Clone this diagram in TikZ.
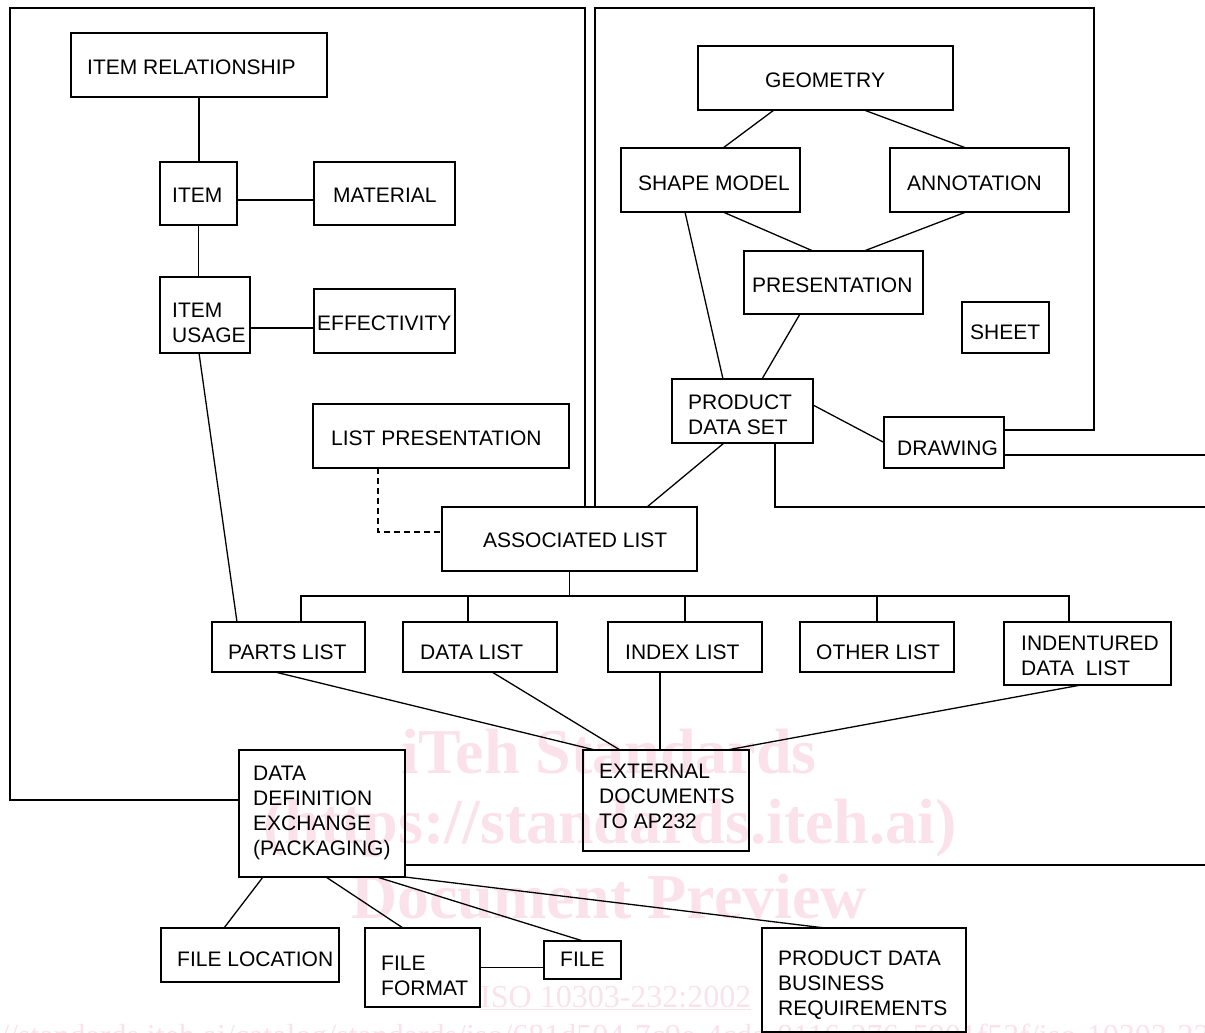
\documentclass[tikz,border=0pt]{standalone}
\usepackage{fontspec}
\setmainfont{Liberation Sans}
\newfontfamily\wmfont{Liberation Serif}
\usetikzlibrary{calc}
\definecolor{wmpink}{RGB}{251,226,234}
\newcommand\mkbox[5]{\node[box, minimum width={(#4)-(#2)}, minimum height={(#5)-(#3)}] (#1) at ({((#2)+(#4))/2},{((#3)+(#5))/2}) {};}
\newcommand\mklbl[4]{\node[lbl] (#1) at (#2,#3) {#4};}
\begin{document}
\begin{tikzpicture}[x=1pt,y=-1pt,
  box/.style={draw, line width=1.3pt, rectangle, inner sep=0pt, outer sep=0pt},
  lbl/.style={anchor=west, align=left, inner sep=0pt, font=\fontsize{21}{25}\selectfont},
  conn/.style={line width=1.3pt},
  wm/.style={text=wmpink, inner sep=0pt, anchor=base}]
\useasboundingbox (0,0) rectangle (1205,1033);
% watermark
\node[wm, font=\wmfont\bfseries\fontsize{64}{70}\selectfont] (wm1) at (609,773) {iTeh Standards};
\node[wm, font=\wmfont\bfseries\fontsize{64}{70}\selectfont] (wm2) at (610,843) {(https://standards.iteh.ai)};
\node[wm, font=\wmfont\bfseries\fontsize{64}{70}\selectfont] (wm3) at (609,918) {Document Preview};
\node[wm, anchor=base west, font=\wmfont\fontsize{32}{36}\selectfont] (wm4) at (480,1007) {\underline{ISO 10303-232:2002}};
\node[wm, anchor=base west, font=\wmfont\fontsize{32}{36}\selectfont] (wm5) at (-71,1046) {https://standards.iteh.ai/catalog/standards/iso/681d504-7c9e-4cda-8116-276c5901f53f/iso-10303-232-2002};
% boxes
\mkbox{ir}{71}{33}{327}{97}
\mkbox{item}{160}{162}{237}{225}
\mkbox{mat}{314}{162}{455}{225}
\mkbox{iu}{160}{277}{250}{353}
\mkbox{eff}{314}{289}{455}{353}
\mkbox{geo}{698}{46}{953}{110}
\mkbox{sm}{621}{148}{800}{212}
\mkbox{ann}{890}{148}{1069}{212}
\mkbox{pres}{744}{251}{923}{314}
\mkbox{sheet}{962}{302}{1049}{353}
\mkbox{pds}{672}{379}{813}{443}
\mkbox{drw}{884}{417}{1004}{468}
\mkbox{lp}{313}{404}{569}{468}
\mkbox{al}{442}{507}{697}{571}
\mkbox{pl}{212}{622}{365}{672}
\mkbox{dl}{403}{622}{557}{672}
\mkbox{il}{608}{622}{762}{672}
\mkbox{ol}{800}{622}{954}{672}
\mkbox{idl}{1004}{622}{1171}{685}
\mkbox{ext}{583}{750}{749}{851}
\mkbox{dde}{239}{750}{405}{877}
\mkbox{fl}{161}{928}{339}{982}
\mkbox{ff}{365}{928}{480}{1007}
\mkbox{file}{544}{941}{621}{979}
\mkbox{pdbr}{762}{928}{966}{1032}
% labels
\mklbl{tir}{87}{67}{ITEM RELATIONSHIP}
\mklbl{titem}{172}{195}{ITEM}
\mklbl{tmat}{333}{195}{MATERIAL}
\mklbl{tiu}{172}{323}{ITEM\\USAGE}
\mklbl{teff}{317}{323}{EFFECTIVITY}
\mklbl{tgeo}{765}{80.5}{GEOMETRY}
\mklbl{tsm}{638}{183}{SHAPE MODEL}
\mklbl{tann}{907}{183}{ANNOTATION}
\mklbl{tpres}{752}{285}{PRESENTATION}
\mklbl{tsheet}{970}{332.5}{SHEET}
\mklbl{tpds}{688}{415}{PRODUCT\\DATA SET}
\mklbl{tdrw}{897}{448}{DRAWING}
\mklbl{tlp}{331}{438}{LIST PRESENTATION}
\mklbl{tal}{483}{540.5}{ASSOCIATED LIST}
\mklbl{tpl}{228}{652.5}{PARTS LIST}
\mklbl{tdl}{420}{652.5}{DATA LIST}
\mklbl{til}{625}{652.5}{INDEX LIST}
\mklbl{tol}{816}{652.5}{OTHER LIST}
\mklbl{tidl}{1021}{656}{INDENTURED\\DATA\ \ LIST}
\mklbl{text}{599}{796.7}{EXTERNAL\\DOCUMENTS\\TO AP232}
\mklbl{tdde}{253}{813}{DATA\\DEFINITION\\EXCHANGE\\(PACKAGING)}
\mklbl{tfl}{177}{959.5}{FILE LOCATION}
\mklbl{tff}{381}{975.5}{FILE\\FORMAT}
\mklbl{tfile}{560}{959.5}{FILE}
\mklbl{tpdbr}{778}{985}{PRODUCT DATA\\BUSINESS\\REQUIREMENTS}
% frame and edge coordinates
\coordinate (lfTR) at (585,8);
\coordinate (lfTL) at (10,8);
\coordinate (lfBL) at (10,800);
\coordinate (rfTL) at (595,8);
\coordinate (rfTR) at (1094,8);
\coordinate (rfBR) at (1094,430);
\coordinate (eR1) at (1205,455);
\coordinate (eR2) at (1205,507);
\coordinate (eR3) at (1205,865);
\coordinate (bus) at (569.5,596);
% frames
\draw[conn] ([xshift=143pt]al.north west) -- (lfTR) -- (lfTL) -- (lfBL) -- (lfBL -| dde.west);
\draw[conn] ([xshift=153pt]al.north west) -- (rfTL) -- (rfTR) -- (rfBR) -- (rfBR -| drw.east);
\draw[conn] ([yshift=-12.5pt]drw.east) -- (eR1);
\draw[conn] ([xshift=103pt]pds.south west) |- (eR2);
\draw[conn] ([yshift=-51.5pt]dde.east) -- (eR3);
% left group
\draw[conn] (ir.south) -- (ir.south |- item.north);
\draw[conn] (item.south) -- (item.south |- iu.north);
\draw[conn] ([yshift=-6.5pt]item.east) -- ([yshift=-6.5pt]mat.west);
\draw[conn] ([yshift=-13pt]iu.east) -- ([yshift=-7pt]eff.west);
\draw[conn] ([xshift=39pt]iu.south west) -- ([xshift=25pt]pl.north west);
% right group
\draw[conn] ([xshift=76pt]geo.south west) -- ([xshift=102pt]sm.north west);
\draw[conn] ([xshift=166pt]geo.south west) -- ([xshift=76pt]ann.north west);
\draw[conn] ([xshift=102pt]sm.south west) -- ([xshift=69pt]pres.north west);
\draw[conn] ([xshift=76pt]ann.south west) -- ([xshift=120pt]pres.north west);
\draw[conn] ([xshift=64pt]sm.south west) -- ([xshift=51pt]pds.north west);
\draw[conn] ([xshift=56pt]pres.south west) -- ([xshift=90pt]pds.north west);
\draw[conn] ([yshift=6pt]pds.east) -- (drw.west);
\draw[conn] ([xshift=52pt]pds.south west) -- ([xshift=205pt]al.north west);
% associated list
\draw[conn, dashed, dash pattern=on 6pt off 4pt] ([xshift=65pt]lp.south west) |- ([yshift=7pt]al.west);
\draw[conn] (al.south) -- (bus);
\draw[conn] ([xshift=89pt]pl.north west) |- (bus);
\draw[conn] ([xshift=65pt]idl.north west) |- (bus);
\draw[conn] ([xshift=65pt]dl.north west) -- ++(0,-26);
\draw[conn] ([xshift=77pt]il.north west) -- ++(0,-26);
\draw[conn] ([xshift=77pt]ol.north west) -- ++(0,-26);
% to external documents
\draw[conn] ([xshift=63pt]pl.south west) -- ([xshift=12pt]ext.north west);
\draw[conn] ([xshift=89pt]dl.south west) -- ([xshift=37pt]ext.north west);
\draw[conn] ([xshift=52pt]il.south west) -- ([xshift=77pt]ext.north west);
\draw[conn] ([xshift=77pt]idl.south west) -- ([xshift=144pt]ext.north west);
% data definition exchange
\draw[conn] ([xshift=24pt]dde.south west) -- ([xshift=63pt]fl.north west);
\draw[conn] ([xshift=87pt]dde.south west) -- ([xshift=38pt]ff.north west);
\draw[conn] ([xshift=138pt]dde.south west) -- ([xshift=39pt]file.north west);
\draw[conn] (dde.south east) -- ([xshift=63pt]pdbr.north west);
\draw[conn] (ff.east) -- (ff.east -| file.west);
\end{tikzpicture}
\end{document}
